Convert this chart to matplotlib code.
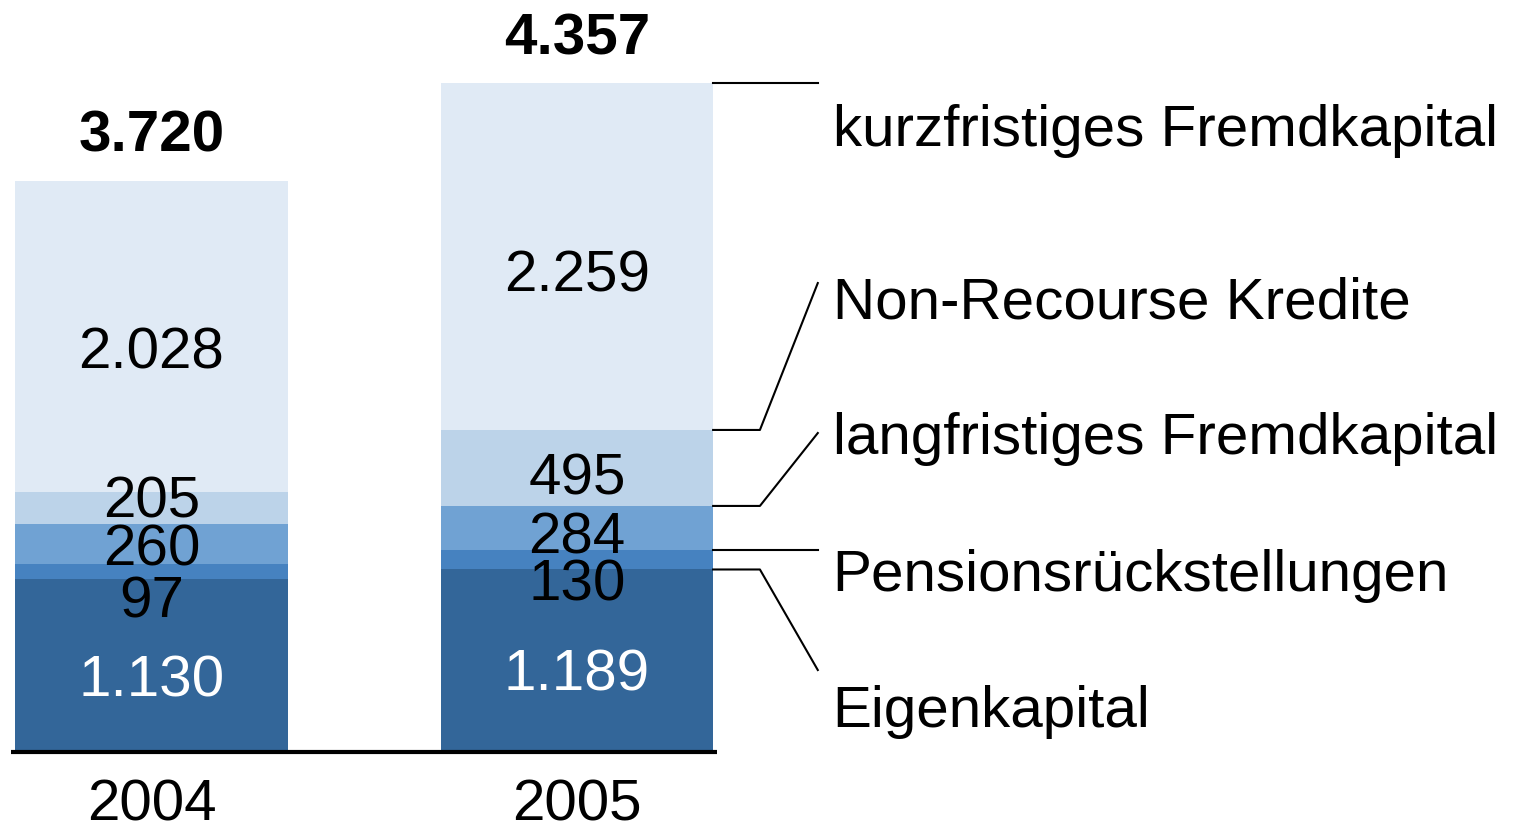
import matplotlib
matplotlib.use("Agg")
import matplotlib.pyplot as plt

# data
years = ["2004", "2005"]
categories = ["Eigenkapital", "Pensionsrückstellungen", "langfristiges Fremdkapital",
              "Non-Recourse Kredite", "kurzfristiges Fremdkapital"]
eigenkapital = [1130, 1189]
pensionen = [97, 130]
langfristig = [260, 284]
non_recourse = [205, 495]
kurzfristig = [2028, 2259]
totals = [3720, 4357]

colors = ["#336699", "#4682c0", "#70a2d3", "#bcd3e9", "#e0eaf5"]
text_colors = ["white", "black", "black", "black", "black"]

plt.rcParams["font.family"] = ["Liberation Sans", "DejaVu Sans"]
FS = 42
HALF_CAP = 21  # half of digit height in pixels, for baseline placement

fig = plt.figure(figsize=(15.19, 8.27), dpi=100)
ax = fig.add_axes([0, 0, 1, 1])
ax.set_xlim(-0.356, 3.214)
ax.set_ylim(-488.6, 4899)
ax.axis("off")


def fmt(v):
    return f"{v:,}".replace(",", ".")


def put(x, y, s, down_px=0, **kw):
    # text whose visual centre sits down_px pixels below (x, y)
    ax.annotate(s, (x, y), xytext=(0, -(down_px + HALF_CAP)),
                textcoords="offset pixels", va="baseline", fontsize=FS, **kw)


series = [eigenkapital, pensionen, langfristig, non_recourse, kurzfristig]
x = [0, 1]
width = 0.64
bottoms = [0, 0]
# vertical nudges of in-bar labels (pixels, downward) to keep small ones apart
nudge = [[10, 9], [25, 20], [1, 5], [-12, 6], [11, 14]]
for i, vals in enumerate(series):
    ax.bar(x, vals, width, bottom=bottoms, color=colors[i], linewidth=0)
    for j in range(2):
        put(x[j], bottoms[j] + vals[j] / 2, fmt(vals[j]), nudge[i][j],
            ha="center", color=text_colors[i])
    bottoms = [b + v for b, v in zip(bottoms, vals)]

for j in range(2):
    put(x[j], totals[j], fmt(totals[j]), -50, ha="center", fontweight="bold")

# baseline
ax.plot([-0.33, 1.33], [0, 0], color="black", lw=3, solid_capstyle="butt")
for j in range(2):
    put(x[j], 0, years[j], 48, ha="center")

# connectors to category labels (2005 boundaries)
edge = 1 + width / 2
elbow = 1.430
end = 1.566
tops = []
acc = 0
for vals in series:
    acc += vals[1]
    tops.append(acc)
anchor = [eigenkapital[1], tops[1], tops[2], tops[3], tops[4]]
label_y = [300, 1186, 2078, 2964, 4085]
line_end = [534, tops[1], 2078, 3055, tops[4]]
for k in range(5):
    if line_end[k] == anchor[k]:
        ax.plot([edge, end], [anchor[k], anchor[k]], color="black", lw=1.5)
    else:
        ax.plot([edge, elbow, end], [anchor[k], anchor[k], line_end[k]],
                color="black", lw=1.5)
    put(1.601, label_y[k], categories[k], 0, ha="left")

fig.savefig("out.png", dpi=100)
